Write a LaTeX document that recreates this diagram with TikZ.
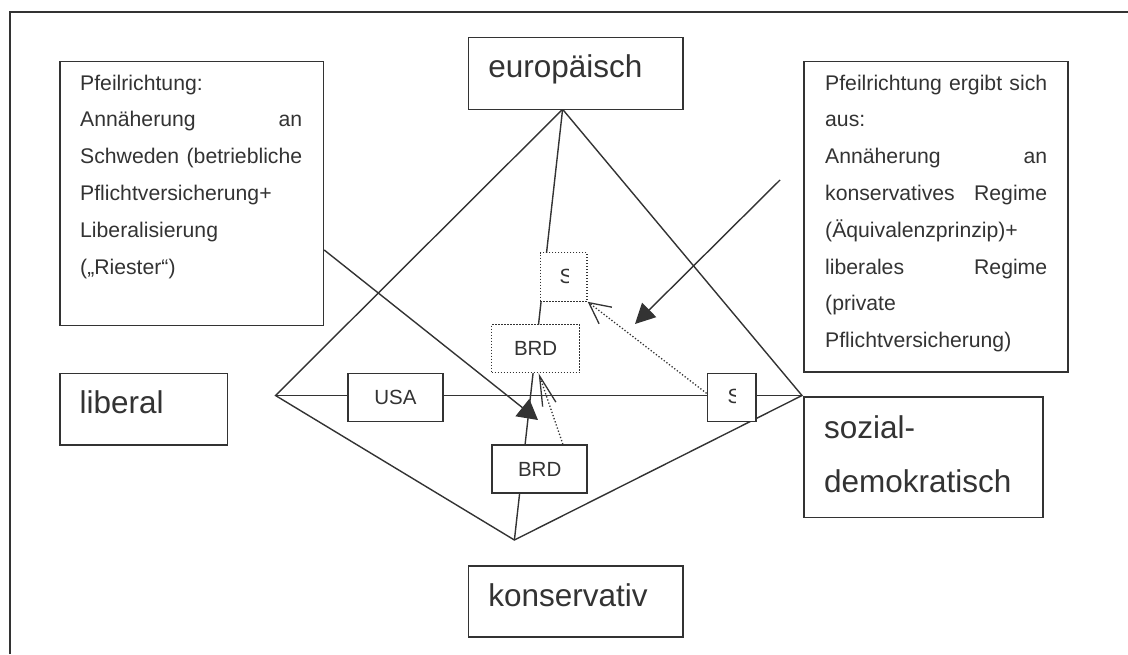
\documentclass[tikz,border=0pt]{standalone}
\usepackage{fontspec}
\setmainfont{Liberation Sans}
\usetikzlibrary{arrows.meta,calc}
\definecolor{ink}{RGB}{51,51,51}
\begin{document}
\begin{tikzpicture}[x=1pt,y=-1pt,
  box/.style={draw=ink, line width=1.7pt, fill=white, inner sep=0pt, anchor=north west},
  dotbox/.style={box, line width=1.3pt, dash pattern=on 1.3pt off 1.7pt},
  ln/.style={draw=ink, line width=1.4pt},
  dotarrow/.style={draw=ink, line width=1.3pt, dash pattern=on 1.3pt off 2pt},
  big/.style={text=ink, font=\fontsize{31.5}{36}\selectfont, inner sep=0pt, anchor=base west},
  small/.style={text=ink, font=\fontsize{21.2}{25}\selectfont, inner sep=0pt, anchor=base west},
  lab/.style={text=ink, font=\fontsize{20.5}{24}\selectfont, inner sep=0pt}
]
\useasboundingbox (0,0) rectangle (1128,654);

% outer frame (only top and left edge visible)
\coordinate (f1) at (10,654);
\coordinate (f2) at (10,11.7);
\coordinate (f3) at (1128,11.7);
\draw[ink, line width=2pt] (f1) -- (f2) -- (f3);

% diamond
\coordinate (top) at (562.6,109.3);
\coordinate (left) at (275.5,395.5);
\coordinate (right) at (802,395.5);
\coordinate (bot) at (514.4,540);
\draw[ln] (top) -- (left) -- (bot) -- (right) -- cycle;
\draw[ln] (left) -- (right);
\draw[ln] (top) -- (bot);

% label boxes
\node[box, minimum width=214.4pt, minimum height=71.8pt] (eu) at (467.6,36.7) {};
\node[box, minimum width=167.6pt, minimum height=71.8pt] (lib) at (59,372.5) {};
\node[box, minimum width=239pt, minimum height=120.5pt] (soz) at (803,396) {};
\node[box, minimum width=214.4pt, minimum height=71pt] (kon) at (467.6,565) {};
\node[box, minimum width=263.5pt, minimum height=264pt] (lbox) at (59,60.5) {};
\node[box, minimum width=264pt, minimum height=310.5pt] (rbox) at (803,60.5) {};

% country boxes
\node[dotbox, minimum width=46.8pt, minimum height=48.5pt] (sdot) at (539.6,252) {};
\node[dotbox, minimum width=88pt, minimum height=48pt] (brddot) at (491,324) {};
\node[box, minimum width=95.6pt, minimum height=48pt] (usa) at (346.8,372.5) {};
\node[box, minimum width=48.8pt, minimum height=48pt] (sbox) at (706.6,372.5) {};
\node[box, minimum width=94.9pt, minimum height=48pt] (brd) at (491.4,444.3) {};

\node[lab] (usat) at (usa.center) {USA};
\node[lab] (brddott) at (brddot.center) {BRD};
\node[lab] (brdt) at (brd.center) {BRD};
\begin{scope}
  \clip (555,253) rectangle (568.5,300);
  \node[lab, anchor=west] (sdott) at (559.5,276.4) {S};
\end{scope}
\begin{scope}
  \clip (722,373) rectangle (735.3,420);
  \node[lab, anchor=west] (sboxt) at (727.3,396.5) {S};
\end{scope}

% big labels
\node[big] (eut) at ($(eu.north west)+(20.5,41)$) {europäisch};
\node[big] (libt) at ($(lib.north west)+(20.5,41)$) {liberal};
\node[big] (kont) at ($(kon.north west)+(20.5,41)$) {konservativ};
\node[big] (soz1) at ($(soz.north west)+(21,42)$) {sozial-};
\node[big] (soz2) at ($(soz.north west)+(21,96)$) {demokratisch};

% left text box
\node[small] (l1) at (80,90) {Pfeilrichtung:};
\node[small] (l2) at (80,126.8) {\makebox[222pt][s]{Annäherung an}};
\node[small] (l3) at (80,163.6) {\makebox[222pt][s]{Schweden (betriebliche}};
\node[small] (l4) at (80,200.4) {Pflichtversicherung+};
\node[small] (l5) at (80,237.2) {Liberalisierung};
\node[small] (l6) at (80,274) {(„Riester“)};

% right text box
\node[small] (r1) at (825,90) {\makebox[222pt][s]{Pfeilrichtung ergibt sich}};
\node[small] (r2) at (825,126.8) {aus:};
\node[small] (r3) at (825,163.6) {\makebox[222pt][s]{Annäherung an}};
\node[small] (r4) at (825,200.4) {\makebox[222pt][s]{konservatives Regime}};
\node[small] (r5) at (825,237.2) {(Äquivalenzprinzip)+};
\node[small] (r6) at (825,274) {\makebox[222pt][s]{liberales Regime}};
\node[small] (r7) at (825,310.8) {(private};
\node[small] (r8) at (825,347.6) {Pflichtversicherung)};

% pointer arrows
\coordinate (lstart) at ($(lbox.north east)+(0,189.5)$);
\coordinate (ltip) at (538,420);
\draw[ln, -{Triangle[length=20pt,width=22pt]}] (lstart) -- (ltip);
\coordinate (rstart) at (780,180);
\coordinate (rtip) at (635,324);
\draw[ln, -{Triangle[length=20pt,width=20pt]}] (rstart) -- (rtip);

% movement arrows (dotted)
\coordinate (m1s) at ($(brd.north west)+(71.5,0)$);
\coordinate (m1e) at ($(brddot.south)+(3,0)$);
\draw[dotarrow, -{Straight Barb[length=30pt,width=14pt]}] (m1s) -- (m1e);
\coordinate (m2s) at ($(sbox.west)+(0,-4)$);
\draw[dotarrow, -{Straight Barb[length=21pt,width=21pt]}] (m2s) -- (sdot.south east);
\end{tikzpicture}
\end{document}
